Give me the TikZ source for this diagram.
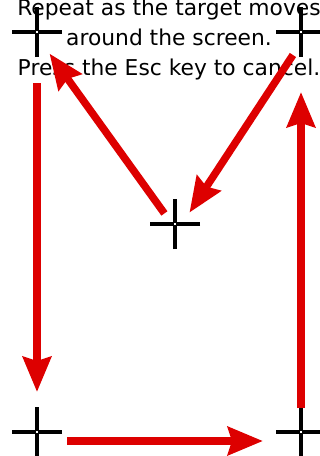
\documentclass[tikz,border=0pt]{standalone}
\usepackage{fontspec}
\setmainfont{DejaVu Sans}
\usepackage{tikz}
\usetikzlibrary{arrows.meta, positioning, calc}
\usepackage{xcolor}
\definecolor{cArrow}{RGB}{221,0,0}
\definecolor{cHair}{RGB}{0,0,0}

\begin{document}
\begin{tikzpicture}[x=1pt, y=-1pt,
  txt/.style={font=\fontsize{21.8}{30}\selectfont, anchor=base, inner sep=0pt},
  target/.style={minimum size=50pt, inner sep=0pt, outer sep=0pt},
  hair/.style={draw=cHair, line width=3.5pt, shorten >=1.3pt},
  arr/.style={-{Stealth[length=35pt, width=28pt, inset=4pt]}, line width=7.5pt, draw=cArrow}]
  \useasboundingbox (0,0) rectangle (320,456);
  % instructions
  \node[txt] (l1) at (169,15) {Repeat as the target moves};
  \node[txt] (l2) at (169,45) {around the screen.};
  \node[txt] (l3) at (169,75) {Press the Esc key to cancel.};
  % targets
  \node[target] (tl) at (37,32) {};
  \node[target] (tr) at (301,32) {};
  \node[target] (mid) at (175,224) {};
  \node[target] (bl) at (37,432) {};
  \node[target] (br) at (301,432) {};
  \foreach \c in {tl,tr,mid,bl,br} {
    \draw[hair] (\c.west) -- (\c.center);
    \draw[hair] (\c.east) -- (\c.center);
    \draw[hair] (\c.north) -- (\c.center);
    \draw[hair] (\c.south) -- (\c.center);
  }
  % path of the target
  \draw[arr, shorten <=27.5pt, shorten >=13.6pt] ([xshift=7pt]tr.center) -- ([xshift=7pt]mid.center);
  \draw[arr, shorten <=13pt, shorten >=26.6pt] ([xshift=-3pt]mid.center) -- ([xshift=-3pt]tl.center);
  \draw[arr, shorten <=51pt, shorten >=40pt] (tl.center) -- (bl.center);
  \draw[arr, shorten <=30pt, shorten >=38pt] ([yshift=-9pt]bl.center) -- ([yshift=-9pt]br.center);
  \draw[arr, shorten <=24pt, shorten >=60pt] (br.center) -- (tr.center);
\end{tikzpicture}
\end{document}
